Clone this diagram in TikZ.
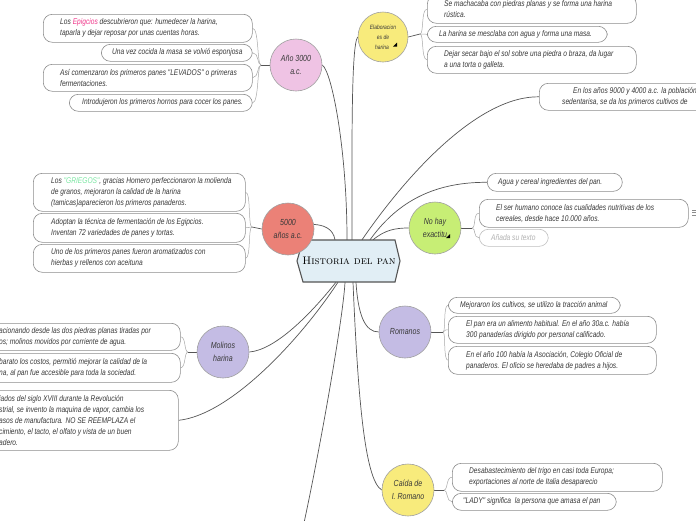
\documentclass[tikz,border=0pt]{standalone}
\usepackage{fontspec}
\newfontfamily\hand{Liberation Sans}[FakeStretch=0.8]
\usetikzlibrary{calc}
\definecolor{txtc}{HTML}{383838}
\definecolor{conngray}{HTML}{555555}
\definecolor{bracegray}{HTML}{A8A8A8}
\definecolor{boxgray}{HTML}{8C8C8C}
\definecolor{circgray}{HTML}{A0A0A0}
\definecolor{hexfill}{HTML}{E1EEF5}
\definecolor{pinkc}{HTML}{EFC3E4}
\definecolor{yellowc}{HTML}{F8EB7C}
\definecolor{salmonc}{HTML}{EB8177}
\definecolor{greenc}{HTML}{C7EE75}
\definecolor{lavc}{HTML}{C4BCE4}
\definecolor{epig}{HTML}{F0368A}
\definecolor{griegc}{HTML}{7BE6A2}
\definecolor{faint}{HTML}{B0B0B0}
\pgfdeclarelayer{bg}
\pgfsetlayers{bg,main}
\begin{document}
\begin{tikzpicture}[x=1pt,y=-1pt,
  leaf/.style={draw=boxgray, line width=0.6pt, rounded corners=9pt, fill=white, inner sep=0pt, anchor=north west},
  txt/.style={font=\hand\itshape\fontsize{8.3}{11}\selectfont, text=txtc, align=left, inner sep=0pt, anchor=west},
  circ/.style={circle, draw=circgray, line width=0.6pt, minimum size=52pt, inner sep=0pt, align=center, text=txtc, font=\hand\itshape\fontsize{8.8}{13}\selectfont},
  conn/.style={draw=conngray, line width=0.7pt},
  brace/.style={draw=bracegray, line width=0.5pt}]
\useasboundingbox (0,0) rectangle (696,520);

% central hexagon
\draw[draw=conngray, line width=1.1pt, fill=hexfill] (303,240) -- (395,240) -- (400,261) -- (395,282) -- (303,282) -- (297,261) -- cycle;
\node[inner sep=0pt, minimum width=92pt, minimum height=42pt, text=black, font=\fontsize{11}{11}\selectfont] (hex) at (349,261) {\textsc{Historia del pan}};

% circles
\node[circ, fill=pinkc] (c3000) at (296,65) {Año 3000\\a.c.};
\node[circ, fill=yellowc, minimum size=50pt, font=\hand\itshape\fontsize{6.2}{10}\selectfont] (elab) at (383,37) {Elaboracion\\es de\\\hspace*{4pt}harina\hspace*{6pt}};
\fill[black] (397,42.5) -- (397,46.5) -- (393,46.5) -- cycle;
\node[circ, fill=salmonc] (c5000) at (288,229) {5000\\años a.c.};
\node[circ, fill=greenc] (nohay) at (435,228) {No hay\\exactitu};
\fill[black] (450,234) -- (450,238) -- (446,238) -- cycle;
\node[circ, fill=lavc] (molinos) at (223,352) {Molinos\\harina};
\node[circ, fill=lavc] (romanos) at (405,332) {Romanos};
\node[circ, fill=yellowc] (caida) at (408,490) {Caída de\\I. Romano};

% Año 3000 leaves
\node[leaf, minimum width=209pt, minimum height=28pt] (a1) at (43,14) {};
\node[txt] at ([xshift=17pt]a1.west) {Los \textcolor{epig}{Epigcios} descubrieron que: humedecer la harina,\\taparla y dejar reposar por unas cuentas horas.};
\node[leaf, minimum width=151pt, minimum height=17pt] (a2) at (101,44) {};
\node[txt] at ([xshift=11pt]a2.west) {Una vez cocida la masa se volvió esponjosa};
\node[leaf, minimum width=209pt, minimum height=27pt] (a3) at (43,64) {};
\node[txt] at ([xshift=17pt]a3.west) {Así comenzaron los primeros panes "LEVADOS" o primeras\\fermentaciones.};
\node[leaf, minimum width=183pt, minimum height=17pt] (a4) at (69,94) {};
\node[txt] at ([xshift=13pt]a4.west) {Introdujeron los primeros hornos para cocer los panes.};

% Elaboracion leaves
\node[leaf, minimum width=209pt, minimum height=28pt] (e1) at (427,-5) {};
\node[txt] at ([xshift=17pt]e1.west) {Se machacaba con piedras planas y se forma una harina\\rústica.};
\node[leaf, minimum width=180pt, minimum height=16pt] (e2) at (427,26) {};
\node[txt] at ([xshift=12pt]e2.west) {La harina se mesclaba con agua y forma una masa.};
\node[leaf, minimum width=209pt, minimum height=27pt] (e3) at (427,46) {};
\node[txt] at ([xshift=17pt]e3.west) {Dejar secar bajo el sol sobre una piedra o braza, da lugar\\a una torta o galleta.};

% top right leaf
\node[leaf, minimum width=200pt, minimum height=27pt] (t1) at (539,83) {};
\node[txt] at ([xshift=23pt]t1.west) {\hspace*{11pt}En los años 9000 y 4000 a.c. la población\\sedentarisa, se da los primeros cultivos de};

% Agua
\node[leaf, minimum width=135pt, minimum height=18pt] (g1) at (487,173) {};
\node[txt] at ([xshift=11pt]g1.west) {Agua y cereal ingredientes del pan.};

% No hay leaves
\node[leaf, minimum width=209pt, minimum height=28pt] (n1) at (479,199) {};
\node[txt] at ([xshift=17pt]n1.west) {El ser humano conoce las cualidades nutritivas de los\\cereales, desde hace 10.000 años.};
\node[leaf, draw=faint!80, minimum width=69pt, minimum height=17pt] (n2) at (479,229) {};
\node[txt, text=faint] at ([xshift=12pt]n2.west) {Añada su texto};
\draw[boxgray, line width=0.6pt] (692,210) -- (697,210) (692,212.5) -- (697,212.5) (692,215) -- (697,215);

% 5000 leaves
\node[leaf, minimum width=212pt, minimum height=38pt] (f1) at (33,173) {};
\node[txt] at ([xshift=18pt]f1.west) {Los \textcolor{griegc}{"GRIEGOS"}, gracias Homero perfeccionaron la molienda\\de granos, mejoraron la calidad de la harina\\(tamicas)aparecieron los primeros panaderos.};
\node[leaf, minimum width=212pt, minimum height=29pt] (f2) at (33,213) {};
\node[txt] at ([xshift=18pt]f2.west) {Adoptan la técnica de fermentación de los Egipcios.\\Inventan 72 variedades de panes y tortas.};
\node[leaf, minimum width=212pt, minimum height=28pt] (f3) at (33,244) {};
\node[txt] at ([xshift=18pt]f3.west) {Uno de los primeros panes fueron aromatizados con\\hierbas y rellenos con aceituna};

% Molinos leaves
\node[leaf, minimum width=200pt, minimum height=27pt] (m1) at (-20,323) {};
\node[txt] at ([xshift=19pt]m1.west) {acionando desde las dos piedras planas tiradas por\\os; molinos movidos por corriente de agua.};
\node[leaf, minimum width=200pt, minimum height=29pt] (m2) at (-20,353) {};
\node[txt] at ([xshift=19pt]m2.west) {barato los costos, permitió mejorar la calidad de la\\na, al pan fue accesible para toda la sociedad.};
\node[leaf, minimum width=198pt, minimum height=60pt] (m3) at (-20,390) {};
\node[txt] at ([xshift=19pt]m3.west) {iados del siglo XVIII durante la Revolución\\strial, se invento la maquina de vapor, cambia los\\asos de manufactura. NO SE REEMPLAZA el\\cimiento, el tacto, el olfato y vista de un buen\\adero.};

% Romanos leaves
\node[leaf, minimum width=172pt, minimum height=16pt] (r1) at (448,297) {};
\node[txt] at ([xshift=12pt]r1.west) {Mejoraron los cultivos, se utilizo la tracción animal};
\node[leaf, minimum width=208pt, minimum height=27pt] (r2) at (448,316) {};
\node[txt] at ([xshift=18pt]r2.west) {El pan era un alimento habitual. En el año 30a.c. había\\300 panaderías dirigido por personal calificado.};
\node[leaf, minimum width=208pt, minimum height=28pt] (r3) at (448,346) {};
\node[txt] at ([xshift=18pt]r3.west) {En el año 100 había la Asociación, Colegio Oficial de\\panaderos. El oficio se heredaba de padres a hijos.};

% Caida leaves
\node[leaf, minimum width=210pt, minimum height=28pt] (k1) at (452,463) {};
\node[txt] at ([xshift=17pt]k1.west) {Desabastecimiento del trigo en casi toda Europa;\\exportaciones al norte de Italia desaparecio};
\node[leaf, minimum width=164pt, minimum height=17pt] (k2) at (452,493) {};
\node[txt] at ([xshift=11pt]k2.west) {"LADY" significa\ \ la persona que amasa el pan};

% junctions
\coordinate (ja) at (261,65);
\coordinate (je) at (420,34);
\coordinate (jf) at (252,227);
\coordinate (jm) at (188,352);
\coordinate (jn) at (472,228);
\coordinate (jr) at (443,332);
\coordinate (jk) at (444,490);
\coordinate (bot) at (302,532);

\begin{pgfonlayer}{bg}
\fill[white] (0,0) rectangle (696,520);
% main connectors
\draw[conn] ([xshift=-2pt]hex.north) .. controls (347,150) and (332,72) .. (c3000.east);
\draw[conn] ([xshift=3pt]hex.north) .. controls (352,150) and (351,45) .. (elab.west);
\draw[conn] ([xshift=-14pt]hex.north) .. controls (333,228) and (323,225) .. (c5000.10);
\draw[conn] ([xshift=13pt]hex.north) .. controls (410,170) and (480,96) .. (t1.west);
\draw[conn] ([xshift=21pt]hex.north) .. controls (395,205) and (430,182) .. (g1.west);
\draw[conn] ([xshift=24pt]hex.north) .. controls (385,230) and (395,228) .. (nohay.west);
\draw[conn] ([xshift=-13pt]hex.south) .. controls (310,315) and (275,350) .. (molinos.east);
\draw[conn] ([xshift=-11pt]hex.south) .. controls (300,340) and (230,415) .. (m3.east);
\draw[conn] ([xshift=-4pt]hex.south) .. controls (343,320) and (318,460) .. (bot);
\draw[conn] ([xshift=4pt]hex.south) .. controls (358,400) and (365,480) .. (caida.west);
\draw[conn] ([xshift=7pt]hex.south) .. controls (358,315) and (365,332) .. (romanos.west);
% group stems
\draw[conn] (c3000.west) -- (ja);
\draw[conn] (elab.east) -- (je);
\draw[conn] (c5000.west) -- (jf);
\draw[conn] (molinos.west) -- (jm);
\draw[conn] (nohay.east) -- (jn);
\draw[conn] (romanos.east) -- (jr);
\draw[conn] (caida.east) -- (jk);
% braces left
\draw[brace] (ja) .. controls (257,65) and (259,28) .. (a1.east);
\draw[brace] (ja) .. controls (257,65) and (259,52.5) .. (a2.east);
\draw[brace] (ja) .. controls (257,65) and (259,77.5) .. (a3.east);
\draw[brace] (ja) .. controls (257,65) and (259,102.5) .. (a4.east);
\draw[brace] (jf) .. controls (248,227) and (251,192) .. (f1.east);
\draw[brace] (jf) .. controls (248,227) and (251,227.5) .. (f2.east);
\draw[brace] (jf) .. controls (248,227) and (251,258) .. (f3.east);
\draw[brace] (jm) .. controls (184,352) and (186,336.5) .. (m1.east);
\draw[brace] (jm) .. controls (184,352) and (186,367.5) .. (m2.east);
% braces right
\draw[brace] (je) .. controls (424,34) and (421,9) .. (e1.west);
\draw[brace] (je) -- (e2.west);
\draw[brace] (je) .. controls (424,34) and (421,59.5) .. (e3.west);
\draw[brace] (jn) .. controls (476,228) and (473,213) .. (n1.west);
\draw[brace] (jn) .. controls (476,228) and (473,237.5) .. (n2.west);
\draw[brace] (jr) .. controls (446,332) and (443,305) .. (r1.west);
\draw[brace] (jr) .. controls (446,332) and (443,329.5) .. (r2.west);
\draw[brace] (jr) .. controls (446,332) and (443,360) .. (r3.west);
\draw[brace] (jk) .. controls (448,490) and (446,477) .. (k1.west);
\draw[brace] (jk) .. controls (448,490) and (446,501.5) .. (k2.west);
\end{pgfonlayer}
\end{tikzpicture}
\end{document}
